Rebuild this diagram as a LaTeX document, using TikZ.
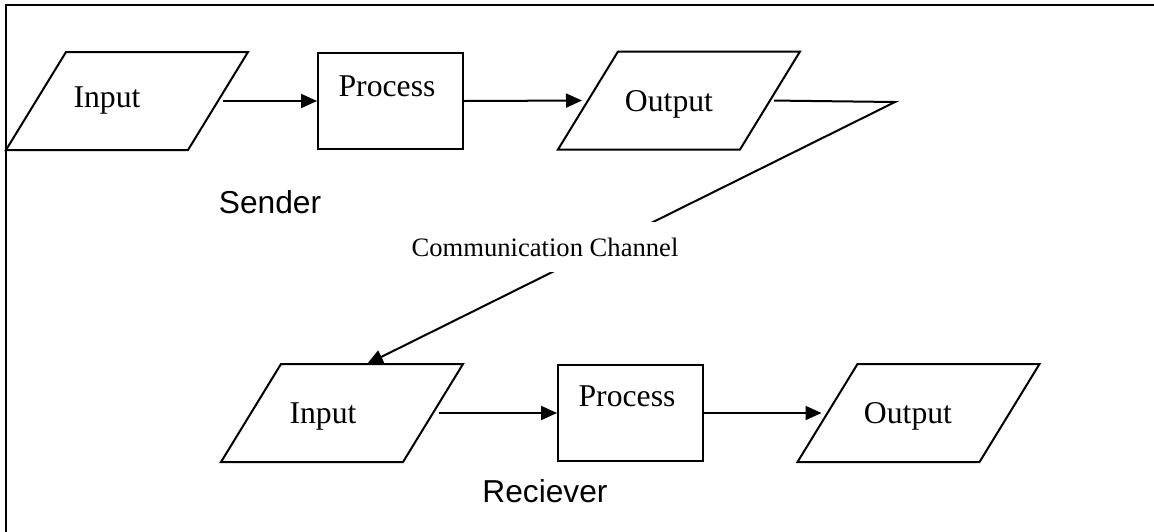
\documentclass[tikz,border=0pt]{standalone}
\usepackage{fontspec}
\setmainfont{Liberation Serif}
\newfontfamily\arialfont{Liberation Sans}
\usetikzlibrary{arrows.meta}
% outline of a data (parallelogram) box around a named node
\newcommand\ioshape[1]{%
  \draw ([xshift=30pt]#1.north west) -- ([xshift=30pt]#1.north east)
     -- ([xshift=-30pt]#1.south east) -- ([xshift=-30pt]#1.south west) -- cycle;}
\begin{document}
\begin{tikzpicture}[x=1pt,y=-1pt,line width=2pt,line join=miter,
  iobox/.style={rectangle,minimum width=180pt,minimum height=96pt,inner sep=0pt},
  procbox/.style={draw,rectangle,minimum width=145pt,minimum height=96pt,inner sep=0pt},
  lbl/.style={inner sep=0pt,font=\fontsize{31.7}{36}\selectfont},
  sidelbl/.style={inner sep=0pt,font=\arialfont\fontsize{31.7}{36}\selectfont},
  flow/.style={-{Triangle[length=16pt,width=14pt]}}]
\useasboundingbox (0,0) rectangle (1154,531);
% page frame
\draw (6,5) rectangle (1180,560);

% sender chain
\node[iobox]   (in1)  at (127,101)   {};
\node[procbox] (pr1)  at (390.5,101) {};
\node[iobox]   (out1) at (679,100.5) {};
\ioshape{in1}
\ioshape{out1}
\node[lbl] (in1t)  at (107,100.5) {Input};
\node[lbl] (pr1t)  at (387,86)    {Process};
\node[lbl] (out1t) at (669,104)   {Output};
\node[sidelbl] (snd) at (270,202.5) {Sender};

% receiver chain
\node[iobox]   (in2)  at (342,413)   {};
\node[procbox] (pr2)  at (630.5,413) {};
\node[iobox]   (out2) at (918.5,413) {};
\ioshape{in2}
\ioshape{out2}
\node[lbl] (in2t)  at (323,416) {Input};
\node[lbl] (pr2t)  at (627,396) {Process};
\node[lbl] (out2t) at (908,416) {Output};
\node[sidelbl] (rcv) at (545,491) {Reciever};

% flow arrows
\draw[flow,shorten <=5pt] (in1.east) -- (pr1.west);
\draw[flow,shorten >=6pt] (pr1.east) -- (out1.west);
\draw[flow,shorten <=6pt] (in2.east) -- (pr2.west);
\draw[flow,shorten >=6pt] (pr2.east) -- (out2.west);

% communication channel
\coordinate (bend) at (895,102);
\draw[flow,shorten <=4pt] (out1.east) -- (bend) -- ([xshift=25pt]in2.north);
\node[fill=white,minimum width=290pt,minimum height=50pt,inner sep=0pt,
  font=\fontsize{26.6}{30}\selectfont] (chan) at (545,247) {Communication Channel};
\end{tikzpicture}
\end{document}
